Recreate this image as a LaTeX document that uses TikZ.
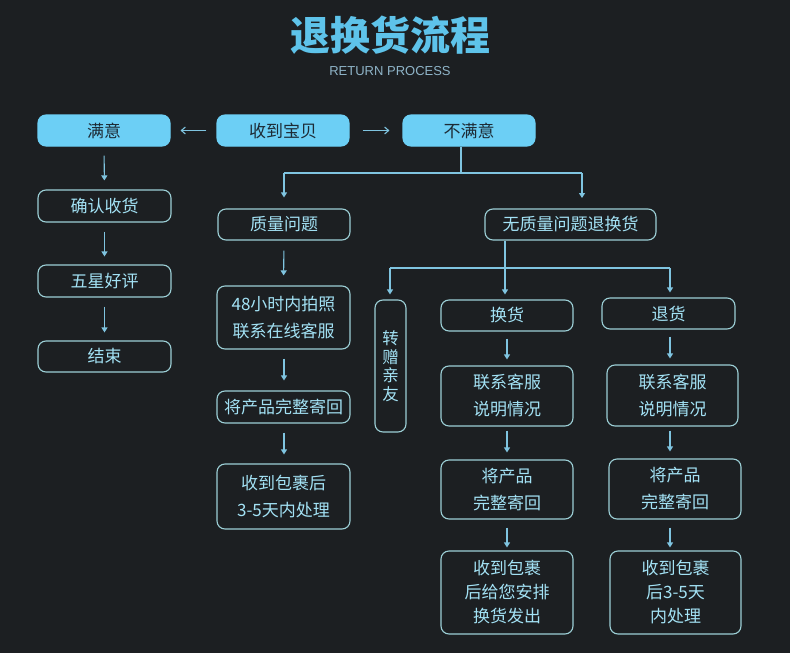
\documentclass[tikz,border=0pt]{standalone}
\usepackage{fontspec}
\setmainfont{Liberation Sans}
\newfontfamily\cjk{Noto Sans CJK SC}
\usetikzlibrary{arrows.meta,calc}
\definecolor{bgc}{HTML}{1C1F22}
\definecolor{fillc}{HTML}{6CCFF5}
\definecolor{darktxt}{HTML}{1D2B35}
\definecolor{linec}{HTML}{7FC4E0}
\definecolor{edgec}{HTML}{9CCFD6}
\definecolor{txtc}{HTML}{A3E2F5}
\definecolor{titlec}{HTML}{5EC3EA}
\definecolor{subc}{HTML}{8FB4C8}
\tikzset{
  box/.style={draw=edgec, line width=1.1pt, rounded corners=8pt, fill=bgc,
    text=txtc, font=\cjk\fontsize{17}{27}\selectfont, align=center,
    inner sep=0pt, minimum width=#1},
  box/.default=132pt,
  fbox/.style={box, fill=fillc, draw=fillc, text=darktxt},
  arr/.style={draw=linec, line width=1.1pt, -{Triangle[length=5pt,width=6pt]}},
  ln/.style={draw=linec, line width=1.1pt},
}
\begin{document}
\begin{tikzpicture}[x=1pt,y=-1pt]
\fill[bgc] (0,0) rectangle (790,653);
\useasboundingbox (0,0) rectangle (790,653);

\node[text=titlec, font=\cjk\bfseries\fontsize{40}{42}\selectfont] (title) at (390,35) {退换货流程};
\node[text=subc, font=\fontsize{13}{14}\selectfont] (sub) at (390,71) {RETURN PROCESS};

\node[fbox, minimum height=31pt] (manyi) at (104,130.5) {满意};
\node[fbox, minimum height=31pt] (shoudao) at (283,130.5) {收到宝贝};
\node[fbox, minimum height=31pt] (bumanyi) at (469,130.5) {不满意};

\node[box=133pt, minimum height=32pt] (queren) at (104.5,206) {确认收货};
\node[box=133pt, minimum height=32pt] (wuxing) at (104.5,281) {五星好评};
\node[box=133pt, minimum height=31pt] (jieshu) at (104.5,356.5) {结束};

\node[box, minimum height=31pt] (zhiliang) at (284,224.5) {质量问题};
\node[box=171pt, minimum height=31pt] (wuzhi) at (570.5,224.5) {无质量问题退换货};

\node[box=133pt, minimum height=63pt] (h48) at (283.5,317.5) {48小时内拍照\\联系在线客服};
\node[box=133pt, minimum height=32pt] (jiang1) at (283.5,407) {将产品完整寄回};
\node[box=133pt, minimum height=65pt] (shou1) at (283.5,496.5) {收到包裹后\\3-5天内处理};

\node[box=31pt, minimum height=132pt, font=\cjk\fontsize{16.5}{18.5}\selectfont] (zz) at (390.5,366) {转\\赠\\亲\\友};

\node[box, minimum height=31pt] (huan) at (507,315.5) {换货};
\node[box=133pt, minimum height=31pt] (tui) at (668.5,313.5) {退货};

\node[box, minimum height=60pt] (lx1) at (507,396) {联系客服\\说明情况};
\node[box=131pt, minimum height=61pt] (lx2) at (672.5,395.5) {联系客服\\说明情况};

\node[box, minimum height=59pt] (jp2) at (507,489.5) {将产品\\完整寄回};
\node[box, minimum height=60pt] (jp3) at (675,489) {将产品\\完整寄回};

\node[box, minimum height=83pt, font=\cjk\fontsize{17}{24}\selectfont] (sb2) at (507,592.5) {收到包裹\\后给您安排\\换货发出};
\node[box=131pt, minimum height=83pt, font=\cjk\fontsize{17}{24}\selectfont] (sb3) at (675.5,592.5) {收到包裹\\后3-5天\\内处理};

% top row arrows
\draw[arr, -{Straight Barb[length=4pt,width=7pt]}, shorten <=10pt, shorten >=10pt] (shoudao.west) -- (manyi.east);
\draw[arr, -{Straight Barb[length=4pt,width=7pt]}, shorten <=13pt, shorten >=13pt] (shoudao.east) -- (bumanyi.west);

% left column
\draw[arr, shorten <=9pt, shorten >=9pt] (manyi.south) -- (queren.north);
\draw[arr, shorten <=9pt, shorten >=8pt] (queren.south) -- (wuxing.north);
\draw[arr, shorten <=9pt, shorten >=8pt] (wuxing.south) -- (jieshu.north);

% split from bumanyi
\coordinate (j1) at (461,173);
\coordinate (jl) at (284,173);
\coordinate (jr) at (582,173);
\draw[ln] ($(bumanyi.south)+(-8,0)$) -- (j1);
\draw[ln] (jl) -- (jr);
\draw[arr, shorten >=11pt] (jl) -- (zhiliang.north);
\draw[arr] (jr) -- ($(jr)+(0,25)$) coordinate (jre);

% quality column
\draw[arr, shorten <=10pt, shorten >=10pt] (zhiliang.south) -- (h48.north);
\draw[arr, shorten <=9pt, shorten >=10pt] ($(h48.south)+(0.5,0)$) -- ($(jiang1.north)+(0.5,0)$);
\draw[arr, shorten <=9pt, shorten >=9pt] ($(jiang1.south)+(0.5,0)$) -- ($(shou1.north)+(0.5,0)$);

% split from wuzhi
\coordinate (k1) at (505,268);
\coordinate (kl) at (390,268);
\coordinate (kr) at (670,268);
\draw[arr, shorten >=5pt] ($(wuzhi.south)+(-65.5,0)$) -- ($(huan.north)+(-2,0)$);
\draw[ln] (kl) -- (kr);
\draw[arr, shorten >=5pt] (kl) -- ($(zz.north)+(-0.5,0)$);
\draw[arr, shorten >=5pt] (kr) -- ($(tui.north)+(1.5,0)$);

% exchange column
\draw[arr, shorten <=7pt, shorten >=6pt] (huan.south) -- (lx1.north);
\draw[arr, shorten <=4pt, shorten >=7pt] (lx1.south) -- (jp2.north);
\draw[arr, shorten <=8pt, shorten >=3pt] (jp2.south) -- (sb2.north);

% return column
\draw[arr, shorten <=7pt, shorten >=6pt] ($(tui.south)+(1.5,0)$) -- ($(lx2.north)+(-2.5,0)$);
\draw[arr, shorten <=4pt, shorten >=7pt] ($(lx2.south)+(-2.5,0)$) -- ($(jp3.north)+(-5,0)$);
\draw[arr, shorten <=8pt, shorten >=3pt] ($(jp3.south)+(-5,0)$) -- ($(sb3.north)+(-5.5,0)$);
\end{tikzpicture}
\end{document}
